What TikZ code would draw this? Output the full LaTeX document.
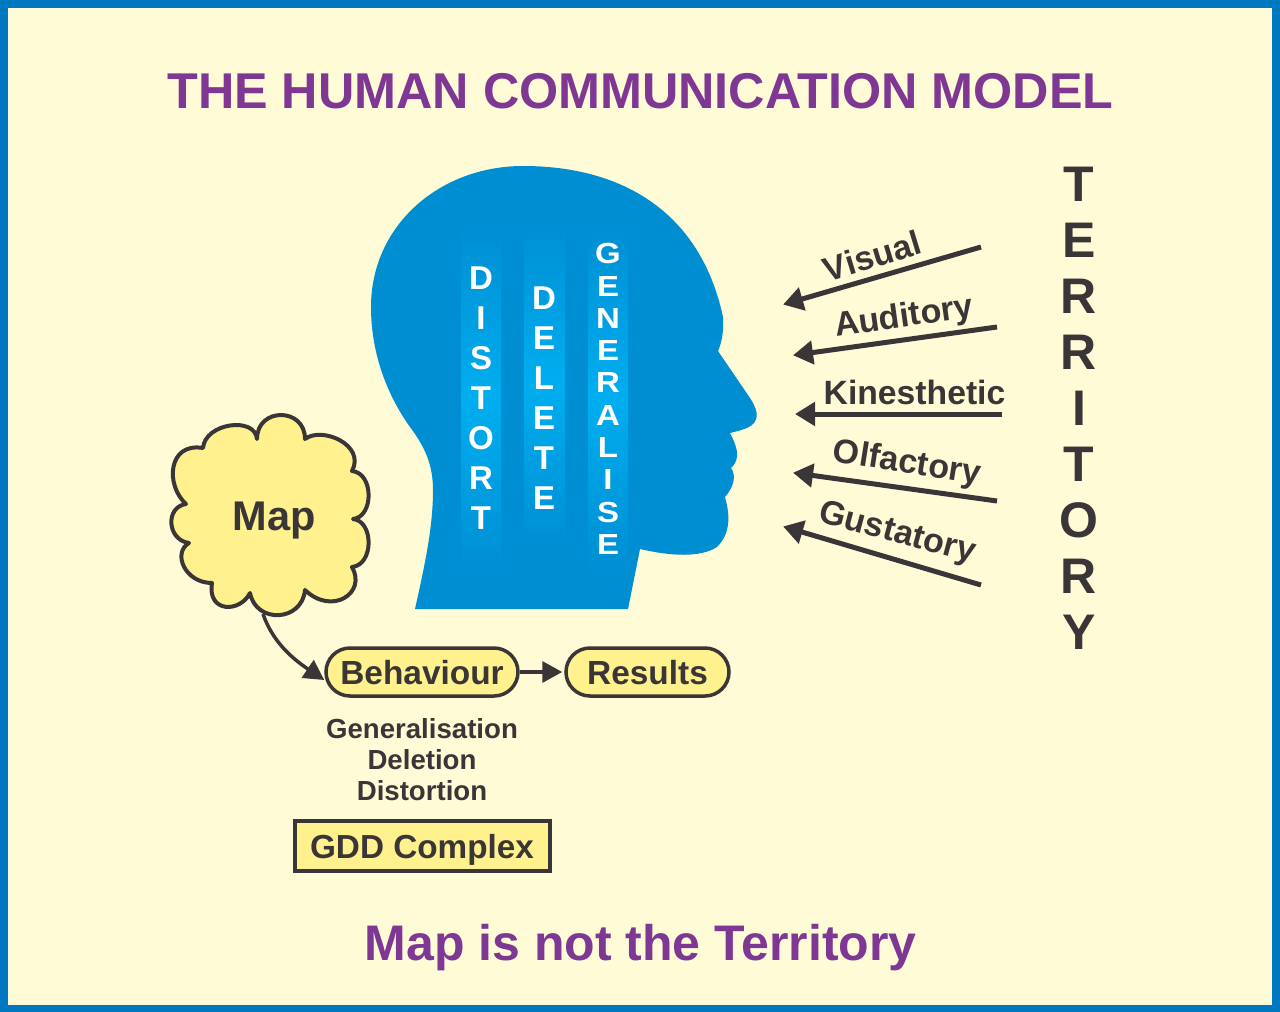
\documentclass[tikz,border=0pt]{standalone}
\usepackage{fontspec}
\setmainfont{Liberation Sans}
\usetikzlibrary{arrows.meta,shapes.misc}
\definecolor{bgc}{HTML}{FFFBD7}
\definecolor{framec}{HTML}{0078BF}
\definecolor{purp}{HTML}{7F3794}
\definecolor{ink}{HTML}{3A3536}
\definecolor{yel}{HTML}{FFF28E}
\definecolor{headc}{HTML}{008ED3}
\definecolor{brightc}{HTML}{00AEEF}
\tikzset{
  x=1pt,y=-1pt,
  lbl/.style={inner sep=0pt,text=ink,font=\bfseries\fontsize{#1}{#1}\selectfont},
  ttl/.style={inner sep=0pt,text=purp,font=\bfseries\fontsize{#1}{#1}\selectfont},
  stack/.style n args={2}{inner sep=0pt,text=white,align=center,font=\bfseries\fontsize{#1}{#2}\selectfont},
  strip/.style={top color=headc,bottom color=headc,middle color=brightc,draw=none},
  pill/.style={rounded rectangle,draw=ink,line width=3.5pt,fill=yel,minimum height=48pt,inner sep=0pt,text=ink,text height=24pt,text depth=0pt,font=\bfseries\fontsize{33.4}{33.4}\selectfont},
  sense/.style={draw=ink,line width=5pt,shorten >=-2pt,-{Triangle[length=20pt,width=23pt]}},
  link/.style={draw=ink,line width=3.5pt,-{Triangle[length=20pt,width=21pt]}}
}
\begin{document}
\begin{tikzpicture}
\useasboundingbox (0,0) rectangle (1280,1012);
\fill[framec] (0,0) rectangle (1280,1012);
\fill[bgc] (8,8) rectangle (1272,1005);

\node[ttl=50.3] (title) at (640.5,91) {THE HUMAN COMMUNICATION MODEL};
\node[ttl=50,text height=36pt,text depth=0pt] (foot) at (640.5,942) {Map is not the Territory};

% head
\fill[headc] (415,609)
  .. controls (426,560) and (433,525) .. (433,490)
  .. controls (433,465) and (425,447) .. (410,427)
  .. controls (385,392) and (371,350) .. (371,307)
  .. controls (371,225) and (440,166) .. (523,166)
  .. controls (620,166) and (700,210) .. (723,317)
  .. controls (724,330) and (722,342) .. (718,351)
  -- (750,398) .. controls (757,409) and (760,418) .. (752,425)
  .. controls (745,430) and (737,431) .. (730,433)
  .. controls (736,445) and (742,458) .. (731,468)
  .. controls (737,476) and (733,488) .. (725,497)
  .. controls (730,515) and (731,533) .. (717,547)
  .. controls (700,558) and (670,556) .. (640,549)
  -- (628,609) -- cycle;
\shade[strip] (461,228) rectangle (501,572);
\shade[strip] (524,220) rectangle (565,546);
\shade[strip] (588,225) rectangle (628,569);

\node[stack={33}{40}] (distort) at (481,398) {D\\I\\S\\T\\O\\R\\T};
\node[stack={33}{40}] (delete) at (544,398) {D\\E\\L\\E\\T\\E};
\node[stack={33}{36.7},yscale=0.88,transform shape] (generalise) at (608,399) {G\\E\\N\\E\\R\\A\\L\\I\\S\\E};

% cloud
\filldraw[draw=ink,fill=yel,line width=4pt,line join=round]
  (203,448) .. controls (205,423) and (255,416) .. (257,439)
  .. controls (257,407) and (305,407) .. (305,439)
  .. controls (322,426) and (366,445) .. (352,471)
  .. controls (374,473) and (374,517) .. (353,519)
  .. controls (374,521) and (374,565) .. (352,567)
  .. controls (367,593) and (332,616) .. (305,590)
  .. controls (302,622) and (256,624) .. (250,593)
  .. controls (240,613) and (207,613) .. (212,583)
  .. controls (185,583) and (172,553) .. (189,543)
  .. controls (167,540) and (165,507) .. (186,504)
  .. controls (165,485) and (168,442) .. (203,448) -- cycle;
\node[lbl=41.5,text height=30pt,text depth=0pt] (map) at (274,515) {Map};
\coordinate (mapout) at (263,614);

\node[pill,minimum width=192pt] (beh) at (422,672) {Behaviour};
\node[pill,minimum width=163pt] (res) at (647.5,672) {Results};
\draw[link] (mapout) .. controls (272,640) and (290,657) .. ([yshift=-8pt]beh.west);
\draw[link] (beh.east) -- ([xshift=-2pt]res.west);

\node[lbl=27.6,align=center,font=\bfseries\fontsize{27.6}{31}\selectfont] (gdd) at (422,760) {Generalisation\\Deletion\\Distortion};
\node[draw=ink,line width=4pt,fill=yel,minimum width=255pt,minimum height=50pt,inner sep=0pt,text=ink,text height=24pt,text depth=0pt,font=\bfseries\fontsize{33.3}{33.3}\selectfont] (box) at (422,846) {GDD Complex};

% senses
\coordinate (v1) at (981,247); \coordinate (v2) at (785,304);
\coordinate (a1) at (997,327); \coordinate (a2) at (795,355);
\coordinate (k1) at (1002,414); \coordinate (k2) at (797,414);
\coordinate (o1) at (997,501); \coordinate (o2) at (795,473);
\coordinate (g1) at (981,585); \coordinate (g2) at (785,527);
\draw[sense] (v1) -- (v2);
\draw[sense] (a1) -- (a2);
\draw[sense] (k1) -- (k2);
\draw[sense] (o1) -- (o2);
\draw[sense] (g1) -- (g2);
\node[lbl=34,rotate=17] (visual) at (872,256) {Visual};
\node[lbl=34,rotate=8] (auditory) at (904,318) {Auditory};
\node[lbl=33.7] (kin) at (914.5,392) {Kinesthetic};
\node[lbl=34,rotate=-9] (olf) at (907,464) {Olfactory};
\node[lbl=34,rotate=-15] (gus) at (897,534) {Gustatory};

\node[align=center,inner sep=0pt,text=ink,font=\bfseries\fontsize{50}{56}\selectfont] (territory) at (1079,408) {T\\E\\R\\R\\I\\T\\O\\R\\Y};
\end{tikzpicture}
\end{document}
